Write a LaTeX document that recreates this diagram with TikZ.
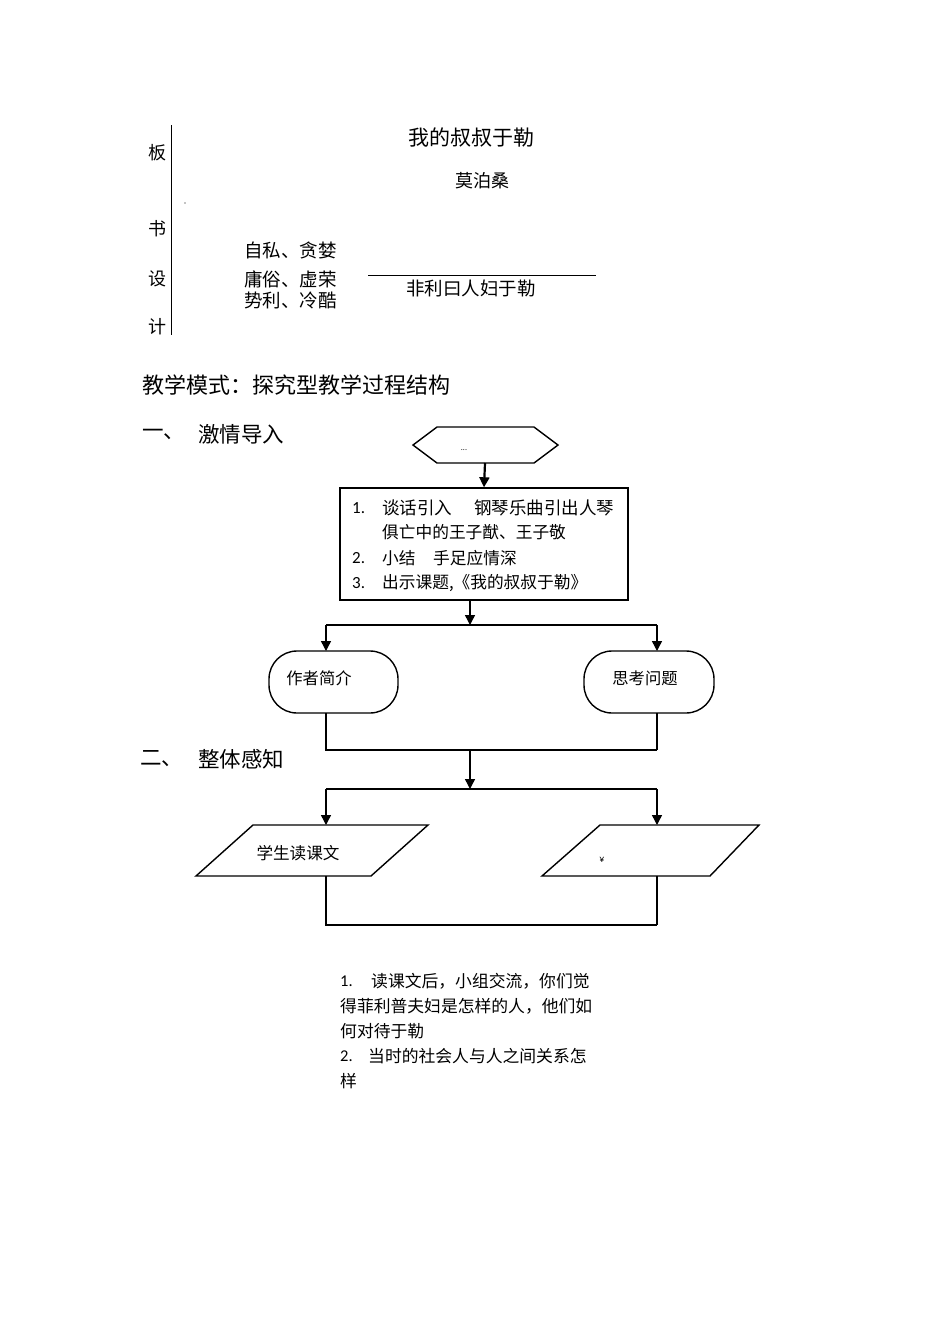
\documentclass[tikz,border=0pt]{standalone}
\usepackage{fontspec}
\setmainfont{Noto Sans CJK SC}
\newfontfamily\lat{Carlito}
\usetikzlibrary{arrows.meta}
\newcommand\myfs[1]{\fontsize{#1}{#1}\selectfont}
\begin{document}
\begin{tikzpicture}[x=1pt,y=-1pt,
  txt/.style={inner sep=0pt,anchor=west},
  ctxt/.style={inner sep=0pt},
  ln/.style={line width=1.4pt},
  arr/.style={line width=1.4pt,-{Triangle[length=10pt,width=10pt]}},
  shp/.style={draw,line width=1.4pt,fill=white}
]
\useasboundingbox[fill=white] (0,0) rectangle (950,1344);

% ---- board design ----
\draw[line width=0.9pt] (171,125) -- (171,335);
\node[txt,font=\myfs{18}] (ban) at (148,153) {板};
\node[txt,font=\myfs{18}] (shu) at (148,229) {书};
\node[txt,font=\myfs{18}] (she) at (148,279) {设};
\node[txt,font=\myfs{18}] (ji) at (148,327) {计};
\fill (185,203) circle (0.7);
\node[ctxt,font=\myfs{21}] (title) at (471,138) {我的叔叔于勒};
\node[ctxt,font=\myfs{18}] (author) at (482,181) {莫泊桑};
\node[txt,font=\myfs{18.5}] (w1) at (244,250) {自私、贪婪};
\node[txt,font=\myfs{18.5}] (w2) at (244,279) {庸俗、虚荣};
\node[txt,font=\myfs{18.5}] (w3) at (244,300) {势利、冷酷};
\draw[line width=0.8pt] (368,275) -- (596,275);
\node[ctxt,font=\myfs{18.5}] (fl) at (471,288) {非利曰人妇于勒};

% ---- headings ----
\node[txt,font=\myfs{22}] (mode) at (142,385) {教学模式：探究型教学过程结构};
\node[txt,font=\myfs{21.5}] (h1n) at (142,434) {一、};
\node[txt,font=\myfs{21.5}] (h1) at (198,434) {激情导入};
\node[txt,font=\myfs{21.5}] (h2n) at (140,759) {二、};
\node[txt,font=\myfs{21.5}] (h2) at (198,759) {整体感知};

% ---- hexagon ----
\draw[shp] (413,445) -- (437,427) -- (534,427) -- (558,445) -- (534,463) -- (437,463) -- cycle;
\node[ctxt,font=\lat\myfs{8}] (hex) at (464,450) {...};
\coordinate (hexb) at (485,463);

% ---- main box ----
\node[shp,minimum width=288pt,minimum height=112pt,inner sep=0pt] (box) at (484,544) {};
\node[txt,font=\lat\myfs{17}] (n1) at (352,508) {1.};
\node[txt,font=\myfs{17.5}] (t1a) at (382,508) {谈话引入};
\node[txt,font=\myfs{17.5}] (t1b) at (474,508) {钢琴乐曲引出人琴};
\node[txt,font=\myfs{16.7}] (t1c) at (382,532) {俱亡中的王子猷、王子敬};
\node[txt,font=\lat\myfs{17}] (n2) at (352,558) {2.};
\node[txt,font=\myfs{16.7}] (t2a) at (382,558) {小结};
\node[txt,font=\myfs{16.7}] (t2b) at (433,558) {手足应情深};
\node[txt,font=\lat\myfs{17}] (n3) at (352,583) {3.};
\node[txt,font=\myfs{16.7}] (t3) at (382,583) {出示课题,《我的叔叔于勒》};
\draw[arr,line width=2.2pt] (hexb) -- (box.north);

% ---- terminators ----
\node[shp,rounded corners=28pt,minimum width=129pt,minimum height=62pt] (zz) at (333.5,682) {};
\node[ctxt,font=\myfs{16.3}] (zzt) at (319,678) {作者简介};
\node[shp,rounded corners=28pt,minimum width=130pt,minimum height=62pt] (sk) at (649,682) {};
\node[ctxt,font=\myfs{16.3}] (skt) at (645,678) {思考问题};

\coordinate (b1) at (470,600);
\coordinate (j1) at (470,625);
\coordinate (j1l) at (326,625);
\coordinate (j1r) at (657,625);
\draw[arr] (b1) -- (j1);
\draw[ln] (j1l) -- (j1r);
\draw[arr] (j1l) -- (326,651);
\draw[arr] (j1r) -- (657,651);

\coordinate (m1) at (470,750);
\draw[ln] (326,713) -- (326,750) -- (657,750);
\draw[line width=2pt] (657,750) -- (657,713);
\coordinate (j2) at (470,789);
\draw[arr] (m1) -- (j2);
\draw[ln] (326,789) -- (657,789);
\draw[arr] (326,789) -- (326,825);
\draw[arr] (657,789) -- (657,825);

% ---- parallelograms ----
\draw[shp] (253,825) -- (428,825) -- (371,876) -- (196,876) -- cycle;
\node[ctxt,font=\myfs{16.6}] (rd) at (298,853) {学生读课文};
\draw[shp] (600,825) -- (759,825) -- (710,876) -- (542,876) -- cycle;
\node[ctxt,font=\lat\myfs{10}] (yen) at (602,860) {¥};
\draw[ln] (326,876) -- (326,925) -- (657,925);
\draw[line width=2pt] (657,925) -- (657,876);

% ---- questions ----
\node[txt,font=\lat\myfs{16.5}] (q1n) at (340,981) {1.};
\node[txt,font=\myfs{16.8}] (q1a) at (371,981) {读课文后，小组交流，你们觉};
\node[txt,font=\myfs{16.8}] (q1b) at (340,1006) {得菲利普夫妇是怎样的人，他们如};
\node[txt,font=\myfs{16.8}] (q1c) at (340,1031) {何对待于勒};
\node[txt,font=\lat\myfs{16.5}] (q2n) at (340,1056) {2.};
\node[txt,font=\myfs{16.8}] (q2a) at (368,1056) {当时的社会人与人之间关系怎};
\node[txt,font=\myfs{16.8}] (q2b) at (340,1081) {样};
\end{tikzpicture}
\end{document}
